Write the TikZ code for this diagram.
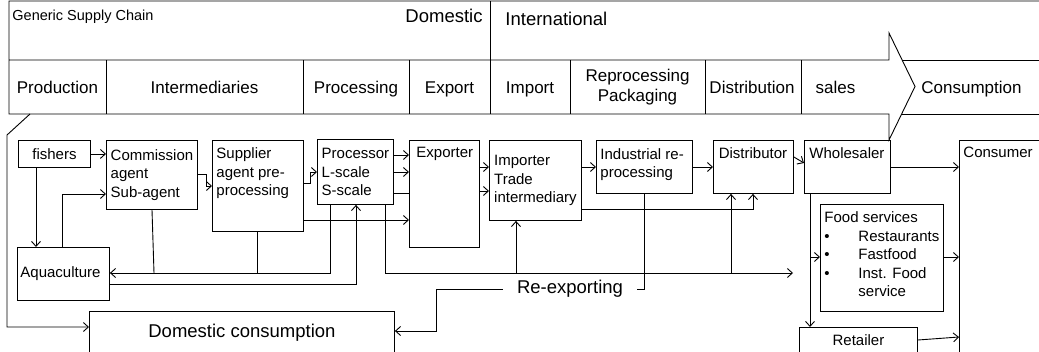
\documentclass[tikz,border=0pt]{standalone}
\usepackage{fontspec}
\setmainfont{Liberation Sans}
\usetikzlibrary{positioning, arrows.meta, calc}

\newcommand{\boxfont}{\fontsize{15}{18.5}\selectfont}
\newcommand{\stagefont}{\fontsize{17}{19.5}\selectfont}
\newcommand{\bigfont}{\fontsize{18.5}{22}\selectfont}

\tikzset{
  box/.style={draw, rectangle, inner sep=0pt, anchor=north west, align=left, font=\boxfont},
  txt/.style={inner sep=0pt, anchor=north west, align=left, font=\boxfont},
  stage/.style={inner sep=0pt, anchor=base, font=\stagefont},
}

\begin{document}
\begin{tikzpicture}[x=1pt, y=-1pt, line width=0.9pt, >={Straight Barb[length=5pt, width=9pt]}]
 \useasboundingbox (0,0) rectangle (1039,351);
 \clip (0,0) rectangle (1039,351);

 % banner with the stages
 \draw (1039,1) -- (9,1) -- (9,114) -- (889,114) -- (889,140) -- (915,86.5) -- (889,33) -- (889,60) -- (9,60);
 \draw (490,1) -- (490,114);
 \foreach \x in {106,303,409,570,705,801} \draw (\x,60) -- (\x,114);
 \draw (902,60) -- (1039,60);
 \draw (902,114) -- (1039,114);

 \node[inner sep=0pt, anchor=base west, font=\fontsize{14.5}{17}\selectfont] (chain) at (12,20) {Generic Supply Chain};
 \node[inner sep=0pt, anchor=base east, font=\bigfont] (domestic) at (483,22) {Domestic};
 \node[inner sep=0pt, anchor=base west, font=\bigfont] (intl) at (505,25) {International};

 \node[stage] (production) at (57.5,93) {Production};
 \node[stage] (intermed) at (204.5,93) {Intermediaries};
 \node[stage] (processing) at (356,93) {Processing};
 \node[stage] (export) at (449.5,93) {Export};
 \node[stage] (import) at (530,93) {Import};
 \node[stage, anchor=center, align=center] (repro) at (637.5,87) {Reprocessing\\Packaging};
 \node[stage] (distribution) at (752,93) {Distribution};
 \node[stage] (sales) at (835.5,93) {sales};
 \node[stage] (consumption) at (971.5,93) {Consumption};

 % actors
 \node[box, minimum width=72pt, minimum height=27pt] (fishers) at (18,140) {fishers};
 \node[box, minimum width=91pt, minimum height=69pt] (comm) at (106,140) {Commission\\agent\\Sub-agent};
 \node[box, minimum width=91pt, minimum height=91pt] (supp) at (212,140) {};
 \node[txt] (supp-t) at (216,147.6) {Supplier\\agent pre-\\processing};
 \node[box, minimum width=76pt, minimum height=65pt] (proc) at (317,139) {Processor\\L-scale\\S-scale};
 \node[box, minimum width=70pt, minimum height=107pt] (exporter) at (409,140) {};
 \node[txt] (exporter-t) at (416,147) {Exporter};
 \node[box, minimum width=92pt, minimum height=80pt] (importer) at (489,140) {Importer\\Trade\\intermediary};
 \node[box, minimum width=96pt, minimum height=53pt] (indproc) at (596,140) {};
 \node[txt] (indproc-t) at (600,148) {Industrial re-\\processing};
 \node[box, minimum width=80pt, minimum height=53pt] (distrib) at (713,140) {};
 \node[txt, anchor=north] (distrib-t) at (753,147.3) {Distributor};
 \node[box, minimum width=86pt, minimum height=53pt] (wholes) at (804,140) {};
 \node[txt] (wholes-t) at (809,147) {Wholesaler};
 \node[box, minimum width=100pt, minimum height=230pt] (consumer) at (959,140) {};
 \node[txt] (consumer-t) at (963,147) {Consumer};
 \node[box, minimum width=123pt, minimum height=107pt] (foodserv) at (820,204) {};
 \node[txt] (foodserv-t) at (824,211.3) {Food services\\\makebox[34pt][l]{\textbullet}Restaurants\\\makebox[34pt][l]{\textbullet}Fastfood\\\makebox[34pt][l]{\textbullet}Inst. Food\\\hspace*{34pt}service};
 \node[box, minimum width=118pt, minimum height=26pt, align=center] (retailer) at (799,327) {Retailer};
 \node[box, minimum height=53pt, text width=86pt, inner xsep=3pt] (aqua) at (17,247) {Aquaculture};
 \node[box, minimum width=305pt, minimum height=42pt, align=center, font=\bigfont] (domcons) at (89,311) {Domestic consumption};
 \node[inner sep=0pt, inner xsep=14pt, font=\bigfont] (reexp) at (570,289) {Re-exporting};

 % flows
 \draw[->] (fishers.east) -- (comm.west |- fishers.east);
 \draw[->] (36,0 |- fishers.south) -- (36,0 |- aqua.north);
 \draw[->] (62,0 |- aqua.north) |- (comm.west |- 0,194);
 \draw[->] (comm.east |- 0,174) -| (206,186) -- (supp.west |- 0,186);
 \draw[->] (supp.east |- 0,183) -| (310,172) -- (proc.west |- 0,172);
 \draw[->] (supp.east |- 0,220) -- (exporter.west |- 0,220);
 \foreach \y in {155,172} \draw[->] (proc.east |- 0,\y) -- (exporter.west |- 0,\y);
 \draw (proc.east |- 0,193) -- (exporter.west |- 0,193);
 \foreach \y in {167,191} \draw[->] (exporter.east |- 0,\y) -- (importer.west |- 0,\y);
 \draw[->] (importer.east |- 0,167) -- (indproc.west |- 0,167);
 \draw[->] (indproc.east |- 0,167) -- (distrib.west |- 0,167);
 \draw[->] (distrib.east |- 0,157) -- (wholes.west |- 0,163);
 \draw[->] (wholes.east |- 0,167) -- (consumer.west |- 0,167);

 % back to aquaculture
 \draw[->] (330,0 |- proc.south) |- (aqua.east |- 0,273);
 \draw (152,0 |- comm.south) -- (154,273);
 \draw (257,0 |- supp.south) -- (257,273);
 \draw[->] (aqua.east |- 0,284) -| (356,0 |- proc.south);

 % long line under the chain
 \coordinate (fsin) at (793,273);
 \draw[->] (385,0 |- proc.south) |- (fsin);
 \draw[->] (516,273) -- (516,0 |- importer.south);
 \draw[->] (731,273) -- (731,0 |- distrib.south);
 \draw[->] (importer.east |- 0,209) -| (753,0 |- distrib.south);

 % re-exporting
 \draw (644,0 |- indproc.south) |- (reexp.east);
 \draw[->] (reexp.west) -| (436,331) -- (domcons.east |- 0,331);
 \draw[->] (30,114) -- (7,135) |- (domcons.west |- 0,327);

 % wholesaler to consumer
 \draw[->] (810,0 |- wholes.south) -- (810,0 |- retailer.north);
 \draw[->] (810,257) -- (foodserv.west |- 0,257);
 \draw[->] (foodserv.east |- 0,257) -- (consumer.west |- 0,257);
 \draw[->] (retailer.east |- 0,340) -- (consumer.west |- 0,337);
\end{tikzpicture}
\end{document}
